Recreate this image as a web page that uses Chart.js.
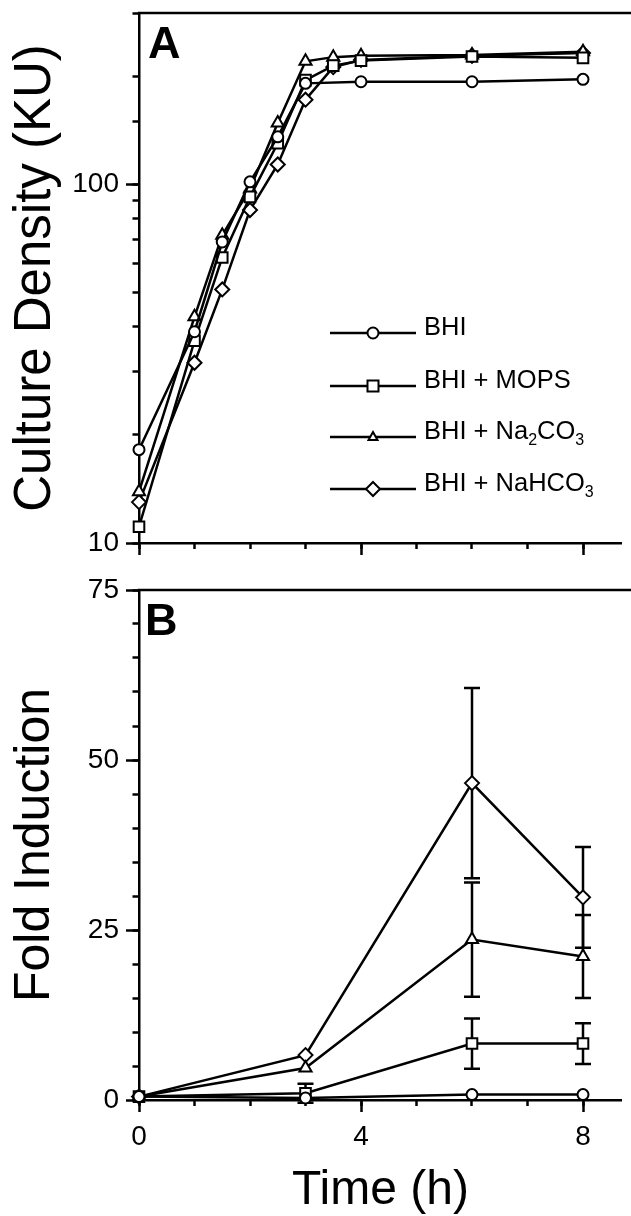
<!DOCTYPE html>
<html><head><meta charset="utf-8">
<script src="https://cdn.jsdelivr.net/npm/chart.js@4.4.1/dist/chart.umd.min.js"></script>
<style>
html,body{margin:0;padding:0;background:#fff;overflow:hidden;width:631px;height:1216px;}
#wrap{position:relative;width:631px;height:1216px;font-family:"Liberation Sans",Arial,Helvetica,sans-serif;color:#000;}
canvas{position:absolute;left:0;}
#cA{top:0;} #cB{top:570px;}
.lbl{position:absolute;font-weight:bold;font-size:45px;line-height:45px;}
.legrow{position:absolute;left:330px;width:300px;height:30px;}
.legrow svg{position:absolute;left:0;top:5px;}
.legtxt{position:absolute;left:94px;top:-4px;font-size:25.5px;line-height:25px;white-space:nowrap;}
.legtxt sub{font-size:16px;line-height:0;vertical-align:-6px;}
</style></head>
<body><div id="wrap">
<canvas id="cA" width="631" height="570"></canvas>
<canvas id="cB" width="631" height="646"></canvas>
<div class="lbl" style="left:148px;top:20px">A</div>
<div class="lbl" style="left:145px;top:597px">B</div>
<div id="legend"></div>
</div>
<script>
// ---------- data ----------
const timeA_BHI   = [0, 1, 1.5, 2, 2.5, 3, 4, 6, 8];
const timeA       = [0, 1, 1.5, 2, 2.5, 3, 3.5, 4, 6, 8];
const densBHI     = [18.2, 38.8, 69, 101.5, 135.5, 191, 193, 193, 196];
const densMOPS    = [11.1, 36.6, 62.5, 92.2, 130, 195, 214, 221, 227, 225];
const densNa2CO3  = [13.9, 42.7, 72.1, 97, 148, 220, 226, 228, 229, 234];
const densNaHCO3  = [13.0, 31.8, 50.9, 84.7, 113.5, 172, 212, 222, 228, 232];

const timeB       = [0, 3, 6, 8];
const foldBHI     = [0.5, 0.3, 0.8, 0.8];
const errBHI      = [0, 0, 0, 0];
const foldMOPS    = [0.5, 1.0, 8.3, 8.3];
const errMOPS     = [0, 1.4, 3.7, 3.0];
const foldNa2CO3  = [0.5, 4.7, 23.6, 21.1];
const errNa2CO3   = [0, 0, 8.4, 6.1];
const foldNaHCO3  = [0.5, 6.6, 46.6, 29.8];
const errNaHCO3   = [0, 0, 14.0, 7.4];

const seriesNames = ['BHI', 'BHI + MOPS', 'BHI + Na2CO3', 'BHI + NaHCO3'];
const legendHTML  = ['BHI', 'BHI + MOPS', 'BHI + Na<sub>2</sub>CO<sub>3</sub>', 'BHI + NaHCO<sub>3</sub>'];
const yTicksA     = [10, 100];
const yTicksB     = [0, 25, 50, 75];
const xTicksMajor = [0, 4, 8];

// ---------- styles ----------
const markers = ['circle', 'rect', 'triangle', 'rectRot'];
const radii   = [5.5, 7.5, 7, 7];
Chart.defaults.font.family = '"Liberation Sans", Arial, Helvetica, sans-serif';
Chart.defaults.color = '#000';

const toXY = (xs, ys) => xs.map((x, i) => ({x: x, y: ys[i]}));

function ds(i, data, errs) {
  return {
    label: seriesNames[i], data: data, errors: errs,
    borderColor: '#000', borderWidth: 2.5, tension: 0,
    pointStyle: markers[i], pointRadius: radii[i], pointHoverRadius: radii[i],
    pointBackgroundColor: '#fff', pointBorderColor: '#000', pointBorderWidth: 2,
    clip: false
  };
}

const framePlugin = {
  id: 'frame',
  afterDraw(c) {
    const {ctx, chartArea: a} = c;
    ctx.save(); ctx.strokeStyle = '#000'; ctx.lineWidth = 2.5;
    ctx.beginPath(); ctx.moveTo(a.left - 1.25, a.top); ctx.lineTo(c.width, a.top); ctx.stroke();
    ctx.restore();
  }
};
const errPlugin = {
  id: 'errbars',
  beforeDatasetsDraw(c) {
    const {ctx} = c; const xs = c.scales.x, ys = c.scales.y;
    ctx.save(); ctx.strokeStyle = '#000'; ctx.lineWidth = 2.5;
    c.data.datasets.forEach(d => {
      if (!d.errors) return;
      d.data.forEach((p, i) => {
        const e = d.errors[i]; if (!e) return;
        const x = xs.getPixelForValue(p.x);
        const y1 = ys.getPixelForValue(p.y + e), y2 = ys.getPixelForValue(p.y - e);
        ctx.beginPath();
        ctx.moveTo(x, y1); ctx.lineTo(x, y2);
        ctx.moveTo(x - 8, y1); ctx.lineTo(x + 8, y1);
        ctx.moveTo(x - 8, y2); ctx.lineTo(x + 8, y2);
        ctx.stroke();
      });
    });
    ctx.restore();
  }
};

const noPad = s => { s.paddingTop = 0; s.paddingBottom = 0; s.paddingLeft = 0; s.paddingRight = 0; };
const tickGrid = len => ({drawOnChartArea: false, drawTicks: true, tickLength: len, tickWidth: 2.5, tickColor: '#000'});
const XMAX = 8.7;

function xAxes(showLabels, height, title) {
  return {
    x: {
      type: 'linear', position: 'bottom', weight: 10, min: 0, max: XMAX,
      afterBuildTicks: s => { s.ticks = xTicksMajor.map(v => ({value: v})); },
      ticks: {display: showLabels, font: {size: 28}, padding: 8, maxRotation: 0, autoSkip: false},
      grid: tickGrid(12),
      border: {display: true, color: '#000', width: 2.5},
      title: title ? {display: true, text: title, font: {size: 48, lineHeight: 1}, padding: {top: 0, bottom: 1}} : {display: false},
      afterFit: s => { s.height = height; noPad(s); }
    },
    xMinor: {
      type: 'linear', position: 'bottom', weight: 0, min: 0, max: XMAX,
      afterBuildTicks: s => { s.ticks = s.ticks.filter(t => Number.isInteger(t.value)); },
      ticks: {display: false, stepSize: 1},
      grid: tickGrid(6),
      border: {display: false},
      afterFit: s => { s.height = 0; noPad(s); }
    }
  };
}

// ---------- Panel A ----------
new Chart(document.getElementById('cA'), {
  type: 'line',
  data: {datasets: [
    ds(0, toXY(timeA_BHI, densBHI)),
    ds(1, toXY(timeA, densMOPS)),
    ds(2, toXY(timeA, densNa2CO3)),
    ds(3, toXY(timeA, densNaHCO3))
  ]},
  options: {
    responsive: false, animation: false, events: [],
    layout: {autoPadding: false, padding: {top: 13, left: 0, right: 631 - (139 + XMAX * 55.5), bottom: 0}},
    plugins: {legend: {display: false}, tooltip: {enabled: false}},
    scales: Object.assign(xAxes(false, 27, null), {
      y: {
        type: 'logarithmic', position: 'left', weight: 10, min: 10, max: 300,
        afterBuildTicks: s => { s.ticks = yTicksA.map(v => ({value: v})); },
        ticks: {font: {size: 28}, padding: 7, callback: v => String(v), autoSkip: false},
        grid: tickGrid(13),
        border: {display: true, color: '#000', width: 2.5},
        title: {display: true, text: 'Culture Density (KU)', font: {size: 51, lineHeight: 1}, padding: {top: 10, bottom: 0}},
        afterFit: s => { s.width = 139; noPad(s); }
      },
      yMinor: {
        type: 'logarithmic', position: 'left', weight: 0, min: 10, max: 300,
        ticks: {display: false},
        grid: tickGrid(6.5),
        border: {display: false},
        afterFit: s => { s.width = 0; noPad(s); }
      }
    })
  },
  plugins: [framePlugin]
});

// ---------- Panel B ----------
new Chart(document.getElementById('cB'), {
  type: 'line',
  data: {datasets: [
    ds(0, toXY(timeB, foldBHI), errBHI),
    ds(1, toXY(timeB, foldMOPS), errMOPS),
    ds(2, toXY(timeB, foldNa2CO3), errNa2CO3),
    ds(3, toXY(timeB, foldNaHCO3), errNaHCO3)
  ]},
  options: {
    responsive: false, animation: false, events: [],
    layout: {autoPadding: false, padding: {top: 20, left: 0, right: 631 - (139 + XMAX * 55.5), bottom: 0}},
    plugins: {legend: {display: false}, tooltip: {enabled: false}},
    scales: Object.assign(xAxes(true, 116, 'Time (h)'), {
      y: {
        type: 'linear', position: 'left', weight: 10, min: 0, max: 75,
        afterBuildTicks: s => { s.ticks = yTicksB.map(v => ({value: v})); },
        ticks: {font: {size: 28}, padding: 7, autoSkip: false},
        grid: tickGrid(13),
        border: {display: true, color: '#000', width: 2.5},
        title: {display: true, text: 'Fold Induction', font: {size: 50, lineHeight: 1}, padding: {top: 10, bottom: 0}},
        afterFit: s => { s.width = 139; noPad(s); }
      },
      yMinor: {
        type: 'linear', position: 'left', weight: 0, min: 0, max: 75,
        ticks: {display: false, stepSize: 5},
        grid: tickGrid(6.5),
        border: {display: false},
        afterFit: s => { s.width = 0; noPad(s); }
      }
    })
  },
  plugins: [framePlugin, errPlugin]
});

// ---------- Legend (panel A) ----------
function markerSVG(i) {
  const cx = 43, cy = 10;
  let m = '';
  if (markers[i] === 'circle') m = `<circle cx="${cx}" cy="${cy}" r="5.5"/>`;
  else if (markers[i] === 'rect') m = `<rect x="${cx-5.5}" y="${cy-5.5}" width="11" height="11"/>`;
  else if (markers[i] === 'triangle') m = `<polygon points="${cx},${cy-5} ${cx+4.5},${cy+3} ${cx-4.5},${cy+3}"/>`;
  else m = `<polygon points="${cx},${cy-7} ${cx+7},${cy} ${cx},${cy+7} ${cx-7},${cy}"/>`;
  return `<svg width="86" height="20" viewBox="0 0 86 20"><line x1="0" y1="10" x2="86" y2="10" stroke="#000" stroke-width="2.5"/><g fill="#fff" stroke="#000" stroke-width="2">${m}</g></svg>`;
}
const legRowsY = [333, 386, 437, 489];
const leg = document.getElementById('legend');
legendHTML.forEach((h, i) => {
  const r = document.createElement('div');
  r.className = 'legrow';
  r.style.top = (legRowsY[i] - 15) + 'px';
  r.innerHTML = markerSVG(i) + `<div class="legtxt">${h}</div>`;
  leg.appendChild(r);
});
</script>
</body></html>
